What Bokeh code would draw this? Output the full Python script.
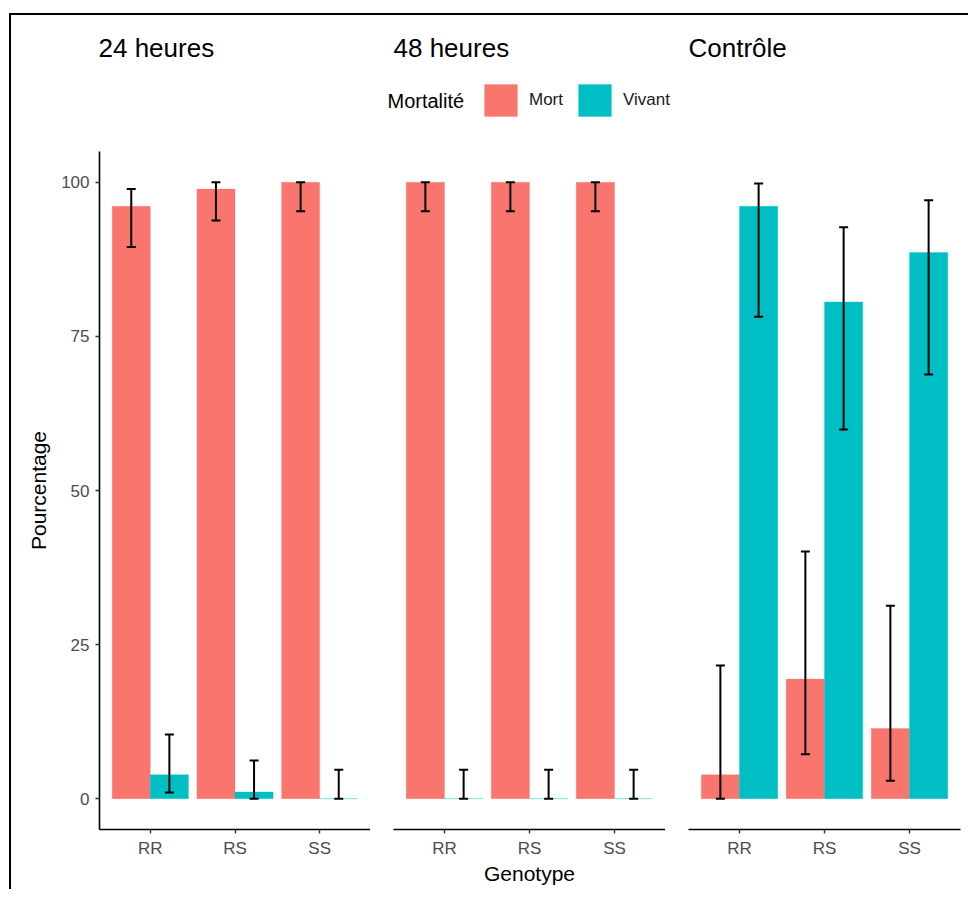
from bokeh.plotting import figure
from bokeh.models import (ColumnDataSource, FactorRange, Range1d, Whisker, TeeHead,
                          Legend, LegendItem, Label, FixedTicker)
from bokeh.transform import dodge
from bokeh.layouts import row, column
from bokeh.embed import file_html
from bokeh.resources import INLINE

# ---------------- data ----------------
genotypes = ["RR", "RS", "SS"]
panels = ["24 heures", "48 heures", "Contrôle"]
mortalite = ["Mort", "Vivant"]
colors = ["#F8766D", "#00BFC4"]
y_ticks = [0, 25, 50, 75, 100]

mort_24 = [96.1, 98.9, 100.0]
mort_24_lo = [89.5, 93.8, 95.3]
mort_24_hi = [98.9, 100.0, 100.0]
viv_24 = [3.9, 1.1, 0.0]
viv_24_lo = [1.0, 0.0, 0.0]
viv_24_hi = [10.4, 6.2, 4.7]

mort_48 = [100.0, 100.0, 100.0]
mort_48_lo = [95.3, 95.3, 95.3]
mort_48_hi = [100.0, 100.0, 100.0]
viv_48 = [0.0, 0.0, 0.0]
viv_48_lo = [0.0, 0.0, 0.0]
viv_48_hi = [4.7, 4.7, 4.7]

mort_ctl = [3.9, 19.4, 11.4]
mort_ctl_lo = [0.0, 7.2, 2.9]
mort_ctl_hi = [21.6, 40.1, 31.3]
viv_ctl = [96.1, 80.6, 88.6]
viv_ctl_lo = [78.2, 59.9, 68.8]
viv_ctl_hi = [99.8, 92.7, 97.1]

series = {
    "24 heures": [(mort_24, mort_24_lo, mort_24_hi), (viv_24, viv_24_lo, viv_24_hi)],
    "48 heures": [(mort_48, mort_48_lo, mort_48_hi), (viv_48, viv_48_lo, viv_48_hi)],
    "Contrôle": [(mort_ctl, mort_ctl_lo, mort_ctl_hi), (viv_ctl, viv_ctl_lo, viv_ctl_hi)],
}

FONT = "Liberation Sans"
OFFSETS = [-0.225, 0.225]


def make_panel(name, idx):
    left = 88 if idx == 0 else 23
    right = 6 if idx == 2 else 0
    fw = 271 if idx == 0 else 272
    p = figure(
        x_range=FactorRange(factors=genotypes, range_padding=0.1, range_padding_units="absolute"),
        y_range=Range1d(-5, 105),
        width=left + fw + right, height=738,
        min_border_left=left, min_border_right=right, min_border_top=0, min_border_bottom=60,
        output_backend="svg", toolbar_location=None,
        y_axis_location="left" if idx == 0 else None,
    )
    p.grid.visible = False
    p.outline_line_color = None
    p.background_fill_color = "white"
    p.border_fill_color = "white"

    for k, (vals, lo, hi) in enumerate(series[name]):
        src = ColumnDataSource(dict(genotype=genotypes, value=vals, lower=lo, upper=hi))
        p.vbar(x=dodge("genotype", OFFSETS[k], range=p.x_range), top="value", bottom=0,
               width=0.45, source=src, fill_color=colors[k],
               line_color=colors[k], line_alpha=0.3, line_width=1)
        w = Whisker(source=src, base=dodge("genotype", OFFSETS[k], range=p.x_range),
                    upper="upper", lower="lower", line_color="black", line_width=2,
                    upper_head=TeeHead(size=9, line_width=2, line_color="black"),
                    lower_head=TeeHead(size=9, line_width=2, line_color="black"),
                    level="overlay")
        p.add_layout(w)

    for ax in p.axis:
        ax.axis_line_color = "black"
        ax.axis_line_width = 1.6
        ax.major_tick_line_color = "#333333"
        ax.major_tick_line_width = 1.4
        ax.major_tick_out = 4
        ax.major_tick_in = 0
        ax.minor_tick_line_color = None
        ax.major_label_text_font = FONT
        ax.major_label_text_font_size = "17px"
        ax.major_label_text_color = "#4D4D4D"
        ax.axis_label_text_font = FONT
        ax.axis_label_text_font_size = "21px"
        ax.axis_label_text_font_style = "normal"
        ax.axis_label_text_color = "black"

    p.xaxis.major_label_standoff = 5
    if idx == 1:
        p.xaxis.axis_label = "Genotype"
        p.xaxis.axis_label_standoff = 1
    if idx == 0:
        p.yaxis.ticker = FixedTicker(ticks=y_ticks)
        p.yaxis.axis_label = "Pourcentage"
        p.yaxis.major_label_standoff = 6
        p.yaxis.axis_label_standoff = 8
    return p


figs = [make_panel(n, i) for i, n in enumerate(panels)]

# ---------------- header: facet titles + legend ----------------
HW, HH = 957, 136
h = figure(width=HW, height=HH, x_range=Range1d(0, HW), y_range=Range1d(0, HH),
           min_border=0, output_backend="svg", toolbar_location=None,
           x_axis_location=None, y_axis_location=None)
h.grid.visible = False
h.outline_line_color = None

title_x = [87, 382, 677]
for name, tx in zip(panels, title_x):
    h.add_layout(Label(x=tx, y=104, x_units="screen", y_units="screen", text=name,
                       text_font=FONT, text_font_size="26px", text_baseline="middle",
                       text_color="black"))

h.add_layout(Label(x=376, y=51, x_units="screen", y_units="screen", text="Mortalité",
                   text_font=FONT, text_font_size="20px", text_baseline="middle",
                   text_color="black"))

# legend key renderers: placed outside the visible header range, only their swatches show
dummy_src = ColumnDataSource(dict(x=[-1000], top=[-1000]))
dummies = [h.vbar(x="x", top="top", bottom=-1001, width=1, source=dummy_src,
                  fill_color=c, line_color=c, line_alpha=0.3)
           for c in colors]
legend = Legend(items=[LegendItem(label=m, renderers=[r]) for m, r in zip(mortalite, dummies)],
                orientation="horizontal", location=(469, 31),
                glyph_width=41, glyph_height=40, label_standoff=8, spacing=11,
                padding=0, margin=0, border_line_alpha=0, background_fill_alpha=0,
                label_text_font=FONT, label_text_font_size="17px", label_text_color="#1a1a1a")
h.add_layout(legend)

layout = column(h, row(*figs), margin=(13, 0, 0, 9),
                styles={"border-top": "2px solid black", "border-left": "2px solid black"})

open("out.html", "w").write(file_html(layout, INLINE))
